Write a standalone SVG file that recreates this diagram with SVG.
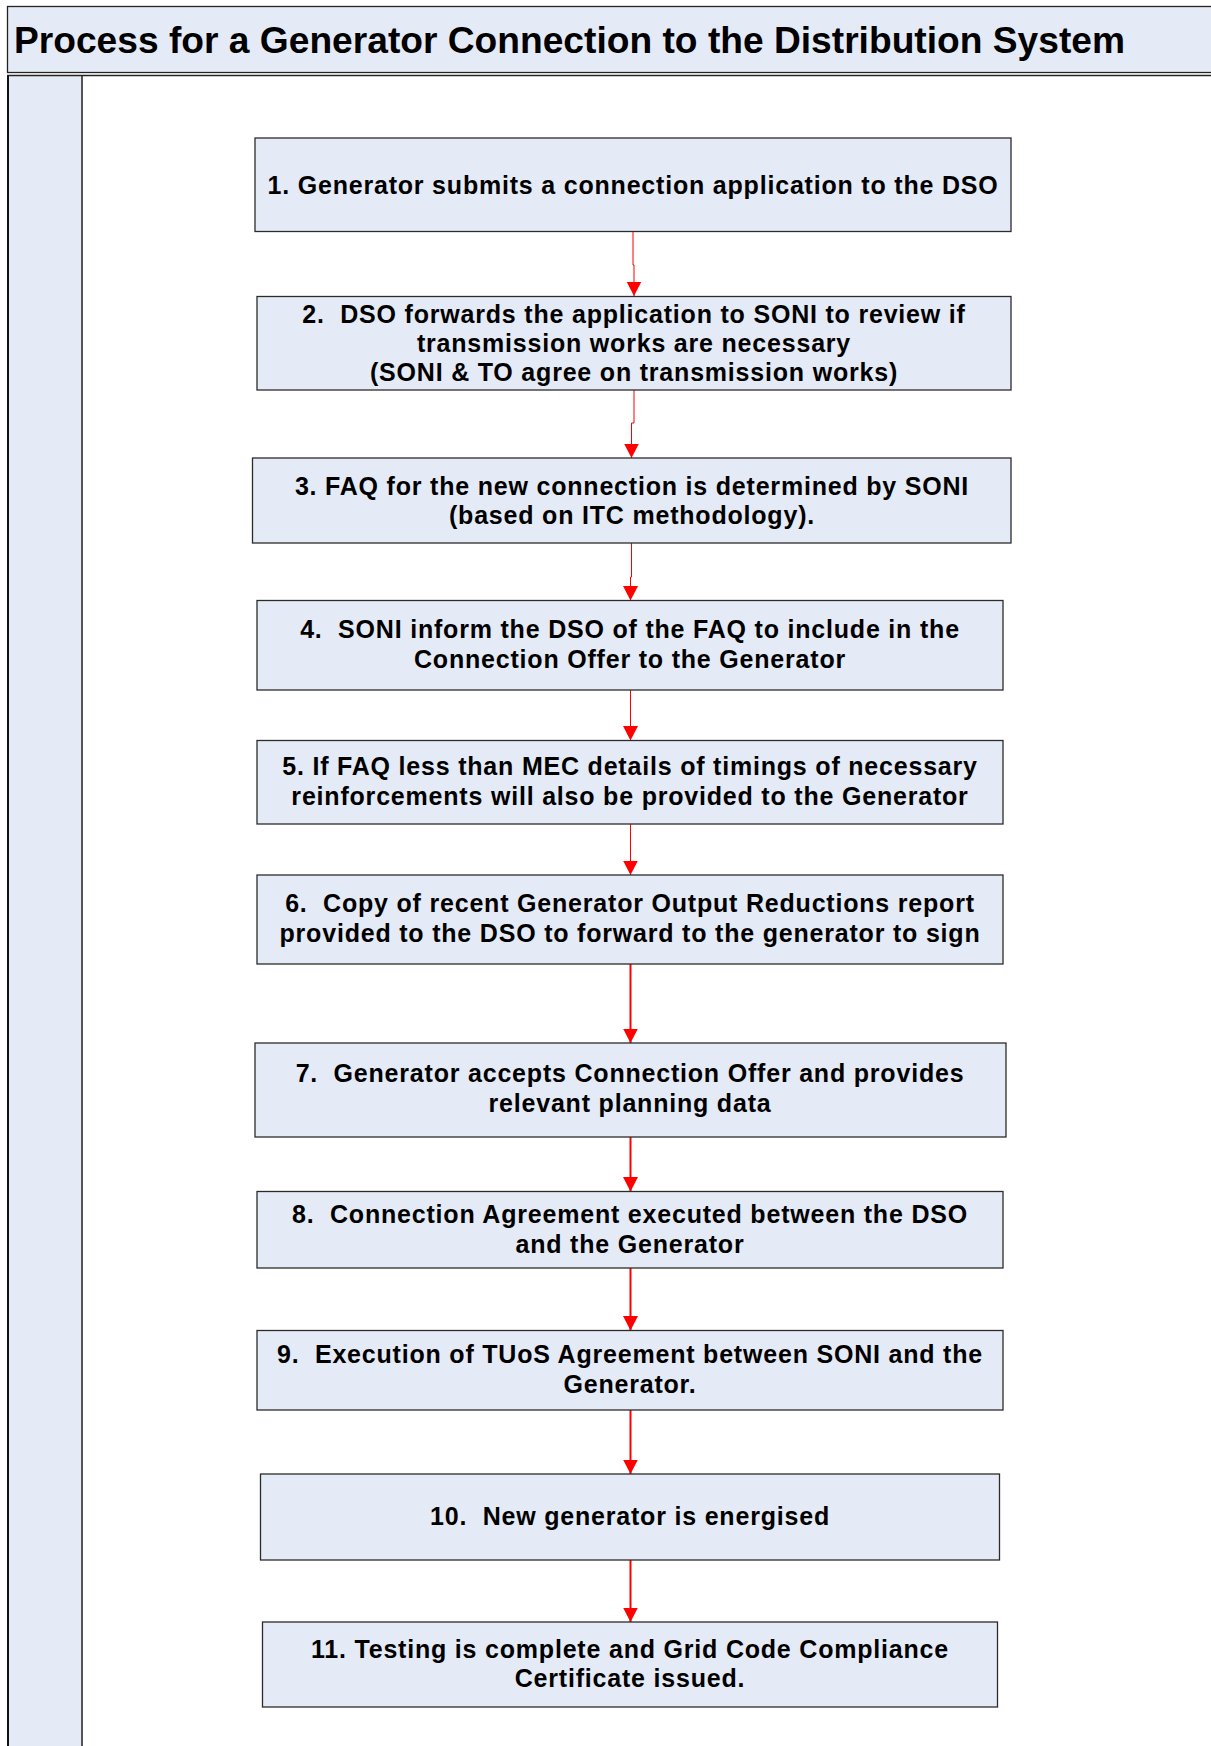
<svg xmlns="http://www.w3.org/2000/svg" width="1211" height="1746" viewBox="0 0 1211 1746">
<defs>
<style>
.box{fill:#E5EBF6;stroke:#2b2b2b;stroke-width:1.3}
.t{font-family:"Liberation Sans",Arial,sans-serif;font-weight:bold;font-size:25px;letter-spacing:0.8px;fill:#000;text-anchor:middle;white-space:pre}
.title{font-family:"Liberation Sans",Arial,sans-serif;font-weight:bold;font-size:36px;fill:#000}
.c1{fill:none;stroke:#FF0000;stroke-width:1}
.c2{fill:none;stroke:#FF0000;stroke-width:2}
</style>
<marker id="ah" markerUnits="userSpaceOnUse" markerWidth="18" markerHeight="15" viewBox="0 0 18 15" refX="9" refY="14.5" orient="0">
<path d="M1.5,0 L16.5,0 L9,14.5 Z" fill="#FF0000"/>
</marker>
</defs>
<rect width="1211" height="1746" fill="#FFFFFF"/>
<g id="lane">
<rect x="8" y="75" width="74" height="1680" fill="#E5EBF6"/>
<line x1="8" y1="75" x2="8" y2="1746" stroke="#111" stroke-width="2"/>
<line x1="82" y1="75" x2="82" y2="1746" stroke="#555" stroke-width="2"/>
</g>
<g id="header">
<rect x="7.5" y="6.5" width="1220" height="66" fill="#E5EBF6" stroke="#222" stroke-width="1.3"/>
<line x1="7" y1="75.5" x2="1211" y2="75.5" stroke="#222" stroke-width="1.3"/>
<text class="title" x="14" y="53" textLength="1111" lengthAdjust="spacingAndGlyphs">Process for a Generator Connection to the Distribution System</text>
</g>
<g id="connectors">
<path class="c1" d="M633,231.5 V265 H634 V296" marker-end="url(#ah)"/>
<path class="c1" d="M634,390 V423 H631.5 V458" marker-end="url(#ah)"/>
<path class="c1" d="M631.5,543 V577 H630.5 V600.5" marker-end="url(#ah)"/>
<path class="c1" d="M630.5,690 V740.5" marker-end="url(#ah)"/>
<path class="c1" d="M630.5,824 V875" marker-end="url(#ah)"/>
<path class="c2" d="M630.5,964 V1043" marker-end="url(#ah)"/>
<path class="c2" d="M630.5,1137 V1191.5" marker-end="url(#ah)"/>
<path class="c2" d="M630.5,1268 V1330.5" marker-end="url(#ah)"/>
<path class="c2" d="M630.5,1410 V1474" marker-end="url(#ah)"/>
<path class="c2" d="M630.5,1560 V1622" marker-end="url(#ah)"/>
</g>
<g id="n1">
<rect class="box" x="255" y="138" width="756" height="93.5"/>
<text class="t" x="633" y="193.5">1. Generator submits a connection application to the DSO</text>
</g>
<g id="n2">
<rect class="box" x="257" y="296.5" width="754" height="93.5"/>
<text class="t" x="634" y="323">2.  DSO forwards the application to SONI to review if</text>
<text class="t" x="634" y="352">transmission works are necessary</text>
<text class="t" x="634" y="381">(SONI &amp; TO agree on transmission works)</text>
</g>
<g id="n3">
<rect class="box" x="252.5" y="458" width="758.5" height="85"/>
<text class="t" x="632" y="494.5">3. FAQ for the new connection is determined by SONI</text>
<text class="t" x="632" y="523.5">(based on ITC methodology).</text>
</g>
<g id="n4">
<rect class="box" x="257" y="600.5" width="746" height="89.5"/>
<text class="t" x="630" y="638">4.  SONI inform the DSO of the FAQ to include in the</text>
<text class="t" x="630" y="668">Connection Offer to the Generator</text>
</g>
<g id="n5">
<rect class="box" x="257" y="740.5" width="746" height="83.5"/>
<text class="t" x="630" y="775">5. If FAQ less than MEC details of timings of necessary</text>
<text class="t" x="630" y="805">reinforcements will also be provided to the Generator</text>
</g>
<g id="n6">
<rect class="box" x="257" y="875" width="746" height="89"/>
<text class="t" x="630" y="912">6.  Copy of recent Generator Output Reductions report</text>
<text class="t" x="630" y="942">provided to the DSO to forward to the generator to sign</text>
</g>
<g id="n7">
<rect class="box" x="255" y="1043" width="751" height="94"/>
<text class="t" x="630" y="1082">7.  Generator accepts Connection Offer and provides</text>
<text class="t" x="630" y="1112">relevant planning data</text>
</g>
<g id="n8">
<rect class="box" x="257" y="1191.5" width="746" height="76.5"/>
<text class="t" x="630" y="1222.5">8.  Connection Agreement executed between the DSO</text>
<text class="t" x="630" y="1252.5">and the Generator</text>
</g>
<g id="n9">
<rect class="box" x="257" y="1330.5" width="746" height="79.5"/>
<text class="t" x="630" y="1362.5">9.  Execution of TUoS Agreement between SONI and the</text>
<text class="t" x="630" y="1392.5">Generator.</text>
</g>
<g id="n10">
<rect class="box" x="260.5" y="1474" width="739" height="86"/>
<text class="t" x="630" y="1525">10.  New generator is energised</text>
</g>
<g id="n11">
<rect class="box" x="262.5" y="1622" width="735" height="85"/>
<text class="t" x="630" y="1657.5">11. Testing is complete and Grid Code Compliance</text>
<text class="t" x="630" y="1686.5">Certificate issued.</text>
</g>
</svg>
